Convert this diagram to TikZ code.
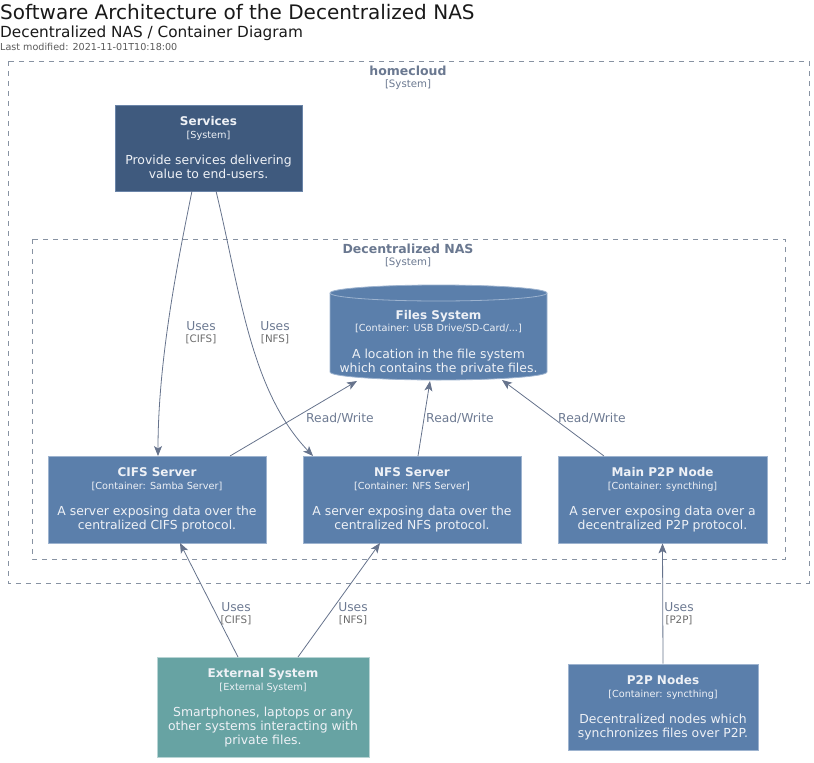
\documentclass[tikz,border=0pt]{standalone}
\usepackage{fontspec}
\setmainfont{DejaVu Sans}
\usetikzlibrary{arrows.meta,calc}
\definecolor{sysdark}{HTML}{3F5A7E}
\definecolor{sysdarkb}{HTML}{6A84A8}
\definecolor{cont}{HTML}{5B7FAB}
\definecolor{contb}{HTML}{9DB3CF}
\definecolor{ext}{HTML}{67A3A3}
\definecolor{extb}{HTML}{B8D4D4}
\definecolor{lnk}{HTML}{66738C}
\definecolor{lbl}{HTML}{6D7A92}
\definecolor{techc}{HTML}{6B6B6B}
\definecolor{bnd}{HTML}{8792A2}
\definecolor{bndt}{HTML}{6A7890}
\definecolor{boxt}{HTML}{EEF1F6}
\tikzset{
  sysbox/.style={draw=sysdarkb, fill=sysdark, line width=0.8pt, inner sep=0, rectangle},
  contbox/.style={draw=contb, fill=cont, line width=0.8pt, inner sep=0, rectangle},
  extbox/.style={draw=extb, fill=ext, line width=0.8pt, inner sep=0, rectangle},
  ttl/.style={anchor=base, inner sep=0, text=boxt, font=\fontsize{12}{14}\selectfont\bfseries},
  stereo/.style={anchor=base, inner sep=0, text=boxt, font=\fontsize{9.7}{11}\selectfont},
  dsc/.style={anchor=base, inner sep=0, text=boxt, font=\fontsize{12.4}{14}\selectfont},
  bound/.style={draw=bnd, dash pattern=on 5pt off 5pt, line width=0.8pt},
  bttl/.style={anchor=base, inner sep=0, text=bndt, font=\fontsize{12.5}{14}\selectfont\bfseries},
  bster/.style={anchor=base, inner sep=0, text=bndt, font=\fontsize{10.2}{11}\selectfont},
  rel/.style={draw=lnk, line width=0.8pt, -{Stealth[length=10pt,width=8pt,inset=2.5pt]}},
  uses/.style={anchor=base, inner sep=0, text=lbl, font=\fontsize{12.3}{14}\selectfont},
  tech/.style={anchor=base, inner sep=0, text=techc, font=\fontsize{10.3}{11}\selectfont},
}
\newcommand{\boxtext}[4]{%
  \node[ttl] (#1-t) at ($(#1.north)+(0,21)$) {#2};
  \node[stereo] (#1-s) at ($(#1.north)+(0,33.5)$) {#3};
  \foreach \ln [count=\i] in {#4} {
    \node[dsc] (#1-d\i) at ($(#1.north)+(0,46+14*\i)$) {\ln};
  }
}
\begin{document}
\begin{tikzpicture}[x=1pt,y=-1pt]
\useasboundingbox (0,0) rectangle (814,763);
% title
\node[anchor=base west, inner sep=0, font=\fontsize{20}{22}\selectfont, text=black!90] (title) at (0,19) {Software Architecture of the Decentralized NAS};
\node[anchor=base west, inner sep=0, font=\fontsize{15.3}{17}\selectfont, text=black!90] (subtitle) at (0,37.5) {Decentralized NAS / Container Diagram};
\node[anchor=base west, inner sep=0, font=\fontsize{9.6}{10}\selectfont, text=black!65] (lastmod) at (0,50.5) {Last modified: 2021-11-01T10:18:00};
% boundaries
\draw[bound] (8,61) rectangle (809,583);
\node[bttl] (hc-t) at (408,75) {homecloud};
\node[bster] (hc-s) at (408,87) {[System]};
\draw[bound] (32,239) rectangle (785,559);
\node[bttl] (nas-t) at (408,253) {Decentralized NAS};
\node[bster] (nas-s) at (408,265) {[System]};
% Services
\node[sysbox, minimum width=187, minimum height=86] (svc) at (208.5,148) {};
\boxtext{svc}{Services}{[System]}{Provide services delivering,value to end-users.}
% Files system cylinder
\node[inner sep=0, minimum width=217, minimum height=95] (fs) at (438.5,332.5) {};
\fill[cont] (330,293) -- (330,372) arc[start angle=180, end angle=0, x radius=108.5, y radius=8] -- (547,293) arc[start angle=0, end angle=-180, x radius=108.5, y radius=8] -- cycle;
\draw[contb, line width=0.8pt] (330,293) -- (330,372) arc[start angle=180, end angle=0, x radius=108.5, y radius=8] -- (547,293);
\draw[contb, line width=0.8pt] (438.5,293) ellipse[x radius=108.5, y radius=8];
\node[ttl] (fs-t) at (438.5,319.5) {Files System};
\node[stereo] (fs-s) at (438.5,331.5) {[Container: USB Drive/SD-Card/...]};
\node[dsc] (fs-d1) at (438.5,358) {A location in the file system};
\node[dsc] (fs-d2) at (438.5,372) {which contains the private files.};
\coordinate (fsA) at (357,381);
\coordinate (fsB) at (430,381);
\coordinate (fsC) at (502,380);
% containers
\node[contbox, minimum width=218, minimum height=87] (cifs) at (157,499.5) {};
\boxtext{cifs}{CIFS Server}{[Container: Samba Server]}{A server exposing data over the,centralized CIFS protocol.}
\node[contbox, minimum width=218, minimum height=87] (nfs) at (412,499.5) {};
\boxtext{nfs}{NFS Server}{[Container: NFS Server]}{A server exposing data over the,centralized NFS protocol.}
\node[contbox, minimum width=209, minimum height=87] (p2p) at (662.5,499.5) {};
\boxtext{p2p}{Main P2P Node}{[Container: syncthing]}{A server exposing data over a,decentralized P2P protocol.}
% external
\node[extbox, minimum width=212, minimum height=100] (ext) at (263,707) {};
\boxtext{ext}{External System}{[External System]}{{Smartphones, laptops or any},other systems interacting with,private files.}
\node[contbox, minimum width=190, minimum height=86] (p2pn) at (663,707) {};
\boxtext{p2pn}{P2P Nodes}{[Container: syncthing]}{Decentralized nodes which,synchronizes files over P2P.}
% relations
\coordinate (svcA) at (192,191);
\coordinate (svcB) at (216,191);
\draw[rel] (svcA) .. controls (178,260) and (158,360) .. (158,456);
\node[uses] (u1) at (201,330.5) {Uses};
\node[tech] (t1) at (201,342.5) {[CIFS]};
\draw[rel] (svcB) .. controls (240,290) and (250,390) .. (313,456);
\node[uses] (u2) at (275,330.5) {Uses};
\node[tech] (t2) at (275,342.5) {[NFS]};
\draw[rel] (230,456) -- (fsA);
\node[uses] (u3) at (340,422.5) {Read/Write};
\draw[rel] (418,456) -- (fsB);
\node[uses] (u4) at (460,422.5) {Read/Write};
\draw[rel] (604,456) -- (fsC);
\node[uses] (u5) at (592,422.5) {Read/Write};
\draw[rel] (238,657) -- (180,543);
\node[uses] (u6) at (236,611.5) {Uses};
\node[tech] (t6) at (236,623.5) {[CIFS]};
\draw[rel] (298,657) -- (380,543);
\node[uses] (u7) at (353,611.5) {Uses};
\node[tech] (t7) at (353,623.5) {[NFS]};
\draw[rel] (p2pn.north) -- (p2p.south);
\node[uses] (u8) at (679,611.5) {Uses};
\node[tech] (t8) at (679,623.5) {[P2P]};
\end{tikzpicture}
\end{document}
